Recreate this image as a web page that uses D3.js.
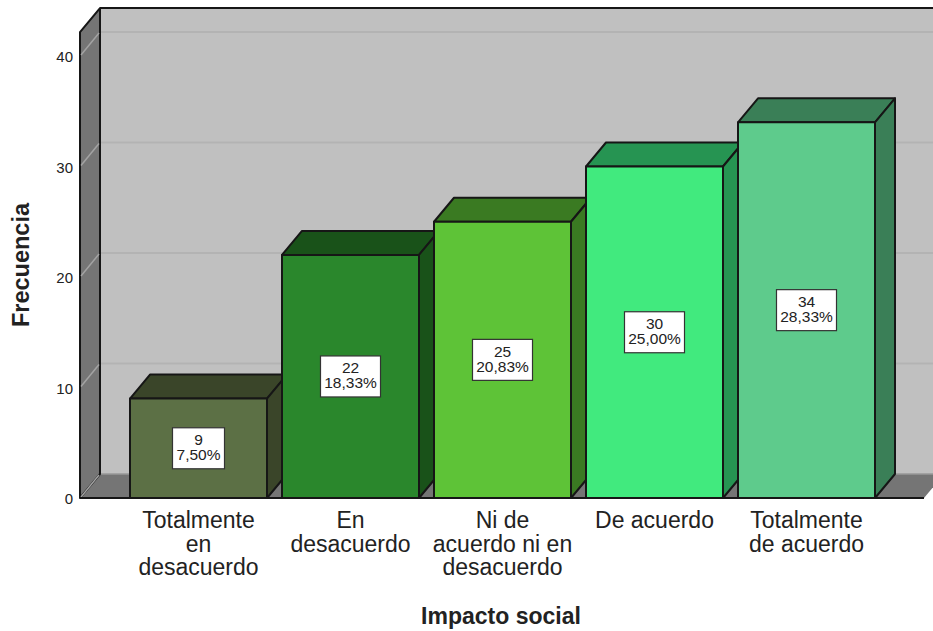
<html>
	<head>
		<meta charset="utf-8">
		<script src="https://d3js.org/d3.v7.min.js"></script>
		<style>
			body { margin: 0; background: #fff; }
			text { font-family: "Liberation Sans", Arial, sans-serif; fill: #222; }
		</style>
	</head>
	<body>
		<svg id="svg" width="933" height="631"></svg>
	<script>
'use strict';

const categories = [
	['Totalmente', 'en', 'desacuerdo'],
	['En', 'desacuerdo'],
	['Ni de', 'acuerdo ni en', 'desacuerdo'],
	['De acuerdo'],
	['Totalmente', 'de acuerdo']
];
const counts = [9, 22, 25, 30, 34];
const percents = ['7,50%', '18,33%', '20,83%', '25,00%', '28,33%'];
const y_ticks = [0, 10, 20, 30, 40];

const front_colors = ['#5c7045', '#2a872c', '#5ec337', '#41ea7e', '#5ecb8c'];
const side_colors = ['#3a4529', '#195219', '#3a7a22', '#269452', '#3a7f57'];

// depth of the fake 3d box
const dx = 20;
const dy = -24;
const ink = '#161616';

const svg = d3.select('#svg');
const x = d3.scaleBand().domain(d3.range(counts.length)).range([130, 875]).paddingInner(15 / 152);
const y = d3.scaleLinear().domain([0, 40]).range([498, 56]);
const left = 80;
const right = 924;
const top_y = y(42.17);

function poly(pts, fill) {
	return svg.append('polygon')
		.attr('points', pts.map(p => p.join(',')).join(' '))
		.attr('fill', fill)
		.attr('stroke', ink)
		.attr('stroke-width', 2)
		.attr('stroke-linejoin', 'round');
}

// back wall
poly([[left + dx, top_y + dy], [right + dx + 30, top_y + dy], [right + dx + 30, y(0) + dy], [left + dx, y(0) + dy]], '#c0c0c0')
	.attr('stroke', 'none');
svg.append('line')
	.attr('x1', left + dx).attr('x2', 933)
	.attr('y1', top_y + dy).attr('y2', top_y + dy)
	.attr('stroke', ink).attr('stroke-width', 2);

// grid on back wall
svg.append('g').selectAll('line')
	.data(y_ticks.slice(1))
	.join('line')
	.attr('x1', left + dx)
	.attr('x2', 933)
	.attr('y1', d => y(d) + dy)
	.attr('y2', d => y(d) + dy)
	.attr('stroke', '#b3b3b3')
	.attr('stroke-width', 2);

// floor and left wall
poly([[left, y(0)], [left + dx, y(0) + dy], [right + dx, y(0) + dy], [right, y(0)]], '#757575')
	.attr('stroke', 'none');
svg.append('line')
	.attr('x1', left + dx).attr('x2', 933)
	.attr('y1', y(0) + dy).attr('y2', y(0) + dy)
	.attr('stroke', '#999').attr('stroke-width', 1.5);
poly([[left, y(0)], [left, top_y], [left + dx, top_y + dy], [left + dx, y(0) + dy]], '#757575');

svg.append('g').selectAll('line')
	.data(y_ticks)
	.join('line')
	.attr('x1', left + 1)
	.attr('x2', left + dx - 1)
	.attr('y1', d => y(d) - 1)
	.attr('y2', d => y(d) + dy + 1)
	.attr('stroke', '#a3a3a3')
	.attr('stroke-width', 1.5);

// baseline
svg.append('line')
	.attr('x1', left).attr('x2', right)
	.attr('y1', y(0)).attr('y2', y(0))
	.attr('stroke', ink).attr('stroke-width', 2);

// bars
counts.forEach((d, i) => {
	const x0 = x(i);
	const x1 = x0 + x.bandwidth();
	const yt = y(d);
	const yb = y(0);
	poly([[x0, yt], [x0 + dx, yt + dy], [x1 + dx, yt + dy], [x1, yt]], side_colors[i]);
	poly([[x1, yt], [x1 + dx, yt + dy], [x1 + dx, yb + dy], [x1, yb]], side_colors[i]);
	poly([[x0, yt], [x1, yt], [x1, yb], [x0, yb]], front_colors[i]);
});

// value labels
const labels = svg.append('g').selectAll('g')
	.data(counts)
	.join('g')
	.attr('transform', (d, i) => `translate(${x(i) + x.bandwidth() / 2},${(y(d) + y(0)) / 2})`);
labels.append('rect')
	.attr('x', (d, i) => i === 0 ? -26 : -30)
	.attr('y', -20.5)
	.attr('width', (d, i) => i === 0 ? 52 : 60)
	.attr('height', 41)
	.attr('fill', '#fff')
	.attr('stroke', '#333')
	.attr('stroke-width', 1.2);
const label_text = labels.append('text')
	.attr('text-anchor', 'middle')
	.attr('font-size', 15.5)
	.attr('y', -3);
label_text.append('tspan')
	.attr('x', 0)
	.text(d => d);
label_text.append('tspan')
	.attr('x', 0)
	.attr('dy', 15)
	.text((d, i) => percents[i]);

// y axis
const y_axis = svg.append('g')
	.attr('transform', `translate(${left},1)`)
	.call(d3.axisLeft(y).tickValues(y_ticks).tickSize(0).tickPadding(7));
y_axis.select('.domain').remove();
y_axis.selectAll('text')
	.attr('font-size', 15)
	.style('font-family', '"Liberation Sans", Arial, sans-serif');

// category labels
svg.append('g').selectAll('text')
	.data(categories)
	.join('text')
	.attr('text-anchor', 'middle')
	.attr('font-size', 23)
	.attr('y', 528)
	.each(function (lines, i) {
		d3.select(this).selectAll('tspan')
			.data(lines)
			.join('tspan')
			.attr('x', x(i) + x.bandwidth() / 2)
			.attr('dy', (l, j) => j === 0 ? 0 : 23.6)
			.text(l => l);
	});

// axis titles
svg.append('text')
	.attr('x', 501).attr('y', 624)
	.attr('text-anchor', 'middle')
	.attr('font-size', 23)
	.attr('font-weight', 'bold')
	.text('Impacto social');
svg.append('text')
	.attr('transform', 'translate(29,265) rotate(-90)')
	.attr('text-anchor', 'middle')
	.attr('font-size', 23.5)
	.attr('font-weight', 'bold')
	.text('Frecuencia');
	</script>
	</body>
</html>
